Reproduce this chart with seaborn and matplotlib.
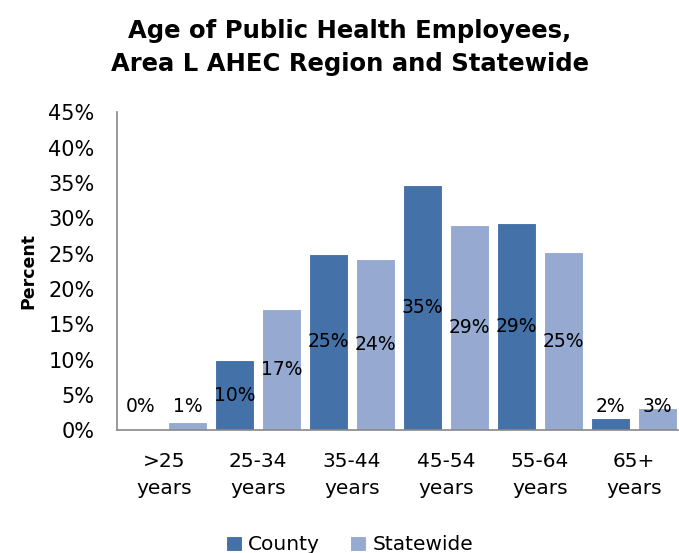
import pandas as pd
import matplotlib
matplotlib.use("Agg")
import matplotlib.pyplot as plt
import seaborn as sns

# Chart data
age_groups = [">25\nyears", "25-34\nyears", "35-44\nyears", "45-54\nyears", "55-64\nyears", "65+\nyears"]
county = [0.0, 9.9, 25.0, 34.7, 29.3, 1.8]
statewide = [1.1, 17.1, 24.2, 29.1, 25.2, 3.1]
series = ["County", "Statewide"]
colors = ["#4472A8", "#95A9D1"]

df = pd.DataFrame({
    "Age": age_groups * 2,
    "Percent": county + statewide,
    "Series": ["County"] * len(county) + ["Statewide"] * len(statewide),
})

sns.set_style("white")
plt.rcParams["font.family"] = ["DejaVu Sans"]
plt.rcParams["text.color"] = "black"
plt.rcParams["xtick.color"] = "black"
plt.rcParams["ytick.color"] = "black"
plt.rcParams["axes.labelcolor"] = "black"

fig = plt.figure(figsize=(6.79, 5.53), dpi=100)
ax = fig.add_axes([0.172, 0.222, 0.831, 0.575])

sns.barplot(data=df, x="Age", y="Percent", hue="Series", hue_order=series,
            palette=colors, saturation=1, width=1.0, gap=0.17,
            edgecolor="white", linewidth=0.8, ax=ax, legend=True)

# data labels: centered in the bar, lifted for short bars
for container in ax.containers:
    for bar in container:
        h = bar.get_height()
        ypos = max(h / 2, 3.4)
        ax.text(bar.get_x() + bar.get_width() / 2, ypos, f"{h:.0f}%",
                ha="center", va="center", fontsize=13.5, color="black")

ax.set_ylim(0, 45)
ax.set_xlim(-0.5, 5.5)
ax.set_yticks(range(0, 46, 5))
ax.set_yticklabels([f"{t}%" for t in range(0, 46, 5)], fontsize=15)
ax.tick_params(axis="x", labelsize=14.5, length=0, pad=16)
ax.tick_params(axis="y", length=0, pad=16)
for lbl in ax.get_xticklabels():
    lbl.set_linespacing(1.5)
ax.set_xlabel("")
ax.set_ylabel("Percent", fontsize=12.5, fontweight="bold", labelpad=8)

for side in ["top", "right"]:
    ax.spines[side].set_visible(False)
for side in ["left", "bottom"]:
    ax.spines[side].set_color("#888888")
    ax.spines[side].set_linewidth(1.2)

handles, labels = ax.get_legend_handles_labels()
ax.legend_.remove()
fig.legend(handles, labels, loc="lower center", bbox_to_anchor=(0.515, -0.035),
           ncol=2, frameon=False, fontsize=14.5, handlelength=0.8,
           handleheight=0.8, handletextpad=0.3, columnspacing=1.5)

fig.text(0.515, 0.965, "Age of Public Health Employees,\nArea L AHEC Region and Statewide",
         ha="center", va="top", fontsize=17.5, fontweight="bold", linespacing=1.45)

fig.savefig("out.png", dpi=100)
